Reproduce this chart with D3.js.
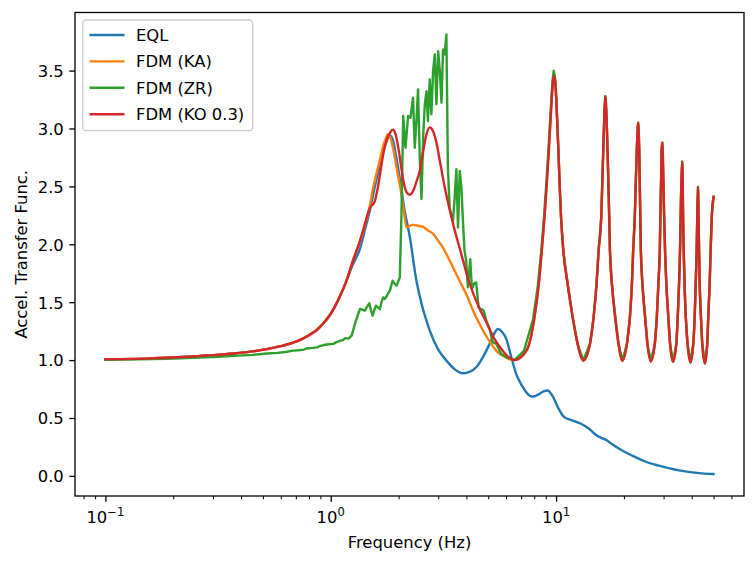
<!DOCTYPE html>
<html>
<head>
<meta charset="utf-8">
<script src="https://cdn.jsdelivr.net/npm/d3@7"></script>
<style>
  body { margin: 0; background: #fff; }
  text { font-family: "DejaVu Sans", sans-serif; fill: #000; }
</style>
</head>
<body>
<div id="chart"></div>
<script>
// series names + colours (matplotlib tab10)
const seriesNames = ["EQL", "FDM (KA)", "FDM (ZR)", "FDM (KO 0.3)"]
const seriesColors = ["#1f77b4", "#ff7f0e", "#2ca02c", "#d62728"]

// [frequency Hz, amplitude]
// low-frequency part shared by EQL, KA and KO
const lowShared = [[0.1,1.007],[0.15,1.013],[0.2,1.022],[0.264,1.036],[0.3,1.043],[0.371,1.057],[0.45,1.075],
  [0.521,1.095],[0.6,1.12],[0.732,1.175],[0.8,1.215],[0.867,1.26],[0.93,1.32],[1.0,1.40],[1.08,1.52],[1.177,1.69]]

const eqlTail = [[1.25,1.82],[1.347,1.96],[1.42,2.13],[1.49,2.29],[1.543,2.43],[1.6,2.57],[1.653,2.68],[1.71,2.80],
  [1.77,2.89],[1.83,2.94],[1.88,2.91],[1.95,2.76],[2.025,2.57],[2.12,2.31],[2.245,2.06],[2.40,1.685],[2.55,1.46],
  [2.66,1.34],[2.75,1.254],[3.0,1.09],[3.26,0.996],[3.55,0.92],[3.86,0.886],[4.15,0.9],[4.42,0.938],[4.75,1.03],
  [5.07,1.14],[5.3,1.225],[5.52,1.269],[5.75,1.245],[6.01,1.183],[6.3,1.04],[6.65,0.881],[7.1,0.77],[7.61,0.694],
  [7.87,0.685],[8.3,0.7],[8.8,0.73],[9.17,0.737],[9.64,0.69],[10.2,0.59],[10.88,0.507],[11.86,0.478],[12.9,0.45],
  [14.0,0.407],[15.0,0.356],[15.8,0.33],[16.7,0.31],[17.8,0.27],[19.06,0.234],[20.5,0.2],[22.5,0.162],[25.0,0.122],
  [28.6,0.088],[35.1,0.047],[43.1,0.024],[50,0.016]]

const kaMid = [[1.25,1.85],[1.347,2.02],[1.42,2.17],[1.49,2.33],[1.543,2.49],[1.6,2.62],[1.653,2.73],[1.71,2.85],
  [1.76,2.92],[1.79,2.95],[1.83,2.93],[1.89,2.83],[1.96,2.66],[2.06,2.43],[2.12,2.26],[2.17,2.145],[2.24,2.16],
  [2.32,2.168],[2.45,2.16],[2.57,2.15],[2.7,2.12],[2.85,2.09],[3.0,2.03],[3.15,1.97],[3.37,1.86],[3.73,1.685],
  [3.99,1.57],[4.3,1.42],[4.58,1.31],[5.07,1.16],[5.43,1.08],[5.9,1.03],[6.43,1.0]]

const koMid = [[1.25,1.85],[1.347,2.03],[1.42,2.18],[1.47,2.28],[1.51,2.33],[1.56,2.36],[1.6,2.44],[1.653,2.6],
  [1.71,2.78],[1.77,2.9],[1.83,2.96],[1.885,2.99],[1.94,2.95],[2.0,2.82],[2.05,2.68],[2.1,2.55],[2.17,2.45],
  [2.24,2.427],[2.32,2.46],[2.4,2.54],[2.48,2.63],[2.57,2.8],[2.66,2.95],[2.75,3.01],[2.84,2.98],[2.95,2.87],
  [3.05,2.72],[3.2,2.5],[3.37,2.3],[3.55,2.12],[3.73,1.97],[4.12,1.67],[4.56,1.45],[4.9,1.33],[5.3,1.19],
  [5.8,1.08],[6.2,1.02],[6.54,1.0]]

const koPeak1 = [[7.39,1.082],[8.02,1.369],[8.38,1.657],[8.64,1.944],[8.88,2.231],[9.09,2.519],[9.28,2.806],
  [9.46,3.093],[9.66,3.381],[9.76,3.453],[9.93,3.381],[10.10,3.093],[10.24,2.806],[10.37,2.519],[10.52,2.231],
  [10.77,1.944],[11.25,1.657],[11.85,1.369],[12.46,1.14]]

const zrLow = [[0.1,1.003],[0.14,1.006],[0.188,1.012],[0.264,1.022],[0.32,1.028],[0.371,1.036],[0.45,1.045],
  [0.521,1.057],[0.58,1.062],[0.63,1.07],[0.68,1.082],[0.72,1.085],[0.76,1.09],[0.78,1.1],[0.83,1.105],[0.87,1.11],
  [0.894,1.12],[0.93,1.13],[0.96,1.135],[1.027,1.14],[1.06,1.155],[1.1,1.165],[1.137,1.174],[1.16,1.19],[1.2,1.185],
  [1.238,1.211],[1.28,1.312],[1.32,1.39],[1.348,1.441],[1.38,1.435],[1.419,1.427],[1.443,1.455],[1.482,1.49],
  [1.51,1.43],[1.534,1.384],[1.56,1.43],[1.587,1.47],[1.62,1.455],[1.653,1.441],[1.68,1.5],[1.709,1.541],
  [1.738,1.528],[1.78,1.56],[1.83,1.6],[1.88,1.685],[1.92,1.66],[1.96,1.642],[2.025,1.714],[2.06,2.26],
  [2.097,3.108],[2.146,2.834],[2.205,3.108],[2.258,3.093],[2.318,3.266],[2.36,2.834],[2.40,3.065],[2.44,3.338],
  [2.486,2.72],[2.528,2.39],[2.57,2.92],[2.615,3.209],[2.66,3.323],[2.70,3.065],[2.75,3.424],[2.797,3.122],
  [2.845,3.496],[2.894,3.64],[2.944,3.209],[2.996,3.668],[3.049,3.496],[3.1,3.222],[3.15,3.683],[3.205,3.64],
  [3.26,3.812],[3.31,2.662],[3.37,2.317],[3.43,2.25],[3.487,2.203],[3.548,2.403],[3.61,2.648],[3.67,2.145],
  [3.735,2.634],[3.80,2.49],[3.86,2.203],[3.92,1.95],[3.99,1.858],[4.06,1.628],[4.16,1.872],[4.23,1.614],
  [4.32,1.66],[4.42,1.671],[4.53,1.455],[4.65,1.44],[4.77,1.427],[4.9,1.34],[5.07,1.269],[5.24,1.153],
  [5.43,1.14],[5.71,1.053],[6.1,1.019],[6.54,1.0]]

const zrPeak1 = [[7.2,1.08],[7.9,1.35],[8.3,1.64],[8.6,1.95],[8.85,2.25],[9.06,2.54],[9.26,2.83],[9.44,3.12],
  [9.64,3.41],[9.76,3.50],[9.93,3.42],[10.1,3.1],[10.24,2.81],[10.37,2.52],[10.52,2.23],[10.77,1.944],[11.25,1.657],
  [11.85,1.369],[12.46,1.14]]

// high-frequency resonances, same for KA, ZR and KO
const highShared = [[13.21,0.996],[14.14,1.14],[14.67,1.369],[15.12,1.657],[15.44,1.944],[15.86,2.231],
  [16.03,2.519],[16.19,2.806],[16.36,3.093],[16.53,3.28],[16.75,3.093],[16.92,2.806],[17.07,2.519],[17.21,2.231],
  [17.34,1.944],[17.69,1.657],[18.30,1.369],[18.92,1.14],[19.71,0.996],
  [20.62,1.14],[21.26,1.369],[21.70,1.657],[21.98,1.944],[22.37,2.26],[22.59,2.547],[22.83,2.834],[23.13,3.05],
  [23.37,2.834],[23.51,2.547],[23.63,2.26],[23.78,1.944],[24.16,1.657],[24.84,1.369],[25.43,1.14],[26.33,0.99],
  [27.42,1.14],[27.99,1.369],[28.44,1.657],[28.86,1.944],[29.03,2.26],[29.24,2.547],[29.44,2.834],[29.63,2.877],
  [29.93,2.547],[30.15,2.26],[30.45,1.944],[30.86,1.657],[31.49,1.369],[32.05,1.14],[33.04,0.987],
  [34.16,1.14],[34.66,1.369],[35.13,1.657],[35.48,1.944],[35.84,2.403],[36.32,2.714],[36.70,2.09],[37.15,1.657],
  [37.64,1.369],[38.31,1.14],[39.49,0.981],
  [40.63,1.14],[41.21,1.369],[41.64,1.657],[42.06,1.944],[42.32,2.24],[42.62,2.496],[42.97,2.116],[43.37,1.657],
  [43.95,1.369],[44.53,1.14],[45.77,0.972],
  [46.87,1.14],[47.34,1.369],[48.02,1.657],[48.51,1.944],[49.16,2.263],[50,2.41]]

const yTicks = [0, 0.5, 1.0, 1.5, 2.0, 2.5, 3.0, 3.5]
const xMajor = [0.1, 1, 10]
const xMajorExp = ["\u22121", "0", "1"]

const series = [
  lowShared.concat(eqlTail),
  lowShared.concat(kaMid, koPeak1, highShared),
  zrLow.concat(zrPeak1, highShared),
  lowShared.concat(koMid, koPeak1, highShared)
]

const W = 756, H = 564
const plotLeft = 75, plotRight = 744, plotTop = 12.5, plotBottom = 496

const svg = d3.select("#chart").append("svg")
  .attr("width", W).attr("height", H)

// matplotlib-style 5% margins
const allPts = series.flat()
const lf = d3.extent(allPts, d => Math.log10(d[0]))
const lpad = 0.05 * (lf[1] - lf[0])
const x = d3.scaleLog()
  .domain([Math.pow(10, lf[0] - lpad), Math.pow(10, lf[1] + lpad)])
  .range([plotLeft, plotRight])
const ve = d3.extent(allPts, d => d[1])
const vpad = 0.05 * (ve[1] - ve[0])
const y = d3.scaleLinear()
  .domain([ve[0] - vpad, ve[1] + vpad])
  .range([plotBottom, plotTop])

svg.append("defs").append("clipPath").attr("id", "clip")
  .append("rect").attr("x", plotLeft).attr("y", plotTop)
  .attr("width", plotRight - plotLeft).attr("height", plotBottom - plotTop)
const plot = svg.append("g").attr("clip-path", "url(#clip)")

series.forEach(function(data, i) {
  const line = d3.line()
    .x(d => x(d[0]))
    .y(d => y(d[1]))
    .curve(i == 2 ? d3.curveLinear : d3.curveMonotoneX)
  plot.append("path")
    .attr("d", line(data))
    .attr("fill", "none")
    .attr("stroke", seriesColors[i])
    .attr("stroke-width", 2.4)
    .attr("stroke-linejoin", "round")
    .attr("stroke-linecap", "square")
})

// x minor ticks
const dom = x.domain()
const minor = []
for (let e = -2; e <= 2; e++) {
  for (let m = 2; m <= 9; m++) {
    const v = m * Math.pow(10, e)
    if (v >= dom[0] && v <= dom[1]) minor.push(v)
  }
}
const xMinorAxis = svg.append("g")
  .attr("transform", `translate(0,${plotBottom})`)
  .call(d3.axisBottom(x).tickValues(minor).tickSize(3.3).tickFormat(""))
xMinorAxis.select(".domain").remove()
xMinorAxis.selectAll("line").attr("stroke-width", 1)

const xAxis = svg.append("g")
  .attr("transform", `translate(0,${plotBottom})`)
  .call(d3.axisBottom(x).tickValues(xMajor).tickSize(5.7).tickFormat(""))
xAxis.select(".domain").remove()
xAxis.selectAll("line").attr("stroke-width", 1.3)

// 10^n labels
xMajor.forEach(function(v, i) {
  const t = svg.append("text")
    .attr("x", x(v))
    .attr("y", 523.3)
    .attr("text-anchor", "middle")
    .style("font-size", "16.4px")
  t.append("tspan").text("10")
  t.append("tspan").attr("dy", -7.5).style("font-size", "11.6px").text(xMajorExp[i])
})

const yAxis = svg.append("g")
  .attr("transform", `translate(${plotLeft},0)`)
  .call(d3.axisLeft(y).tickValues(yTicks).tickSize(5.7).tickPadding(5.5).tickFormat(d3.format(".1f")))
yAxis.select(".domain").remove()
yAxis.selectAll("line").attr("stroke-width", 1.3)
yAxis.selectAll("text")
  .style("font-size", "16.4px")
  .style("font-family", "DejaVu Sans")
  .attr("dy", "0.36em")

// frame
svg.append("rect")
  .attr("x", plotLeft).attr("y", plotTop)
  .attr("width", plotRight - plotLeft).attr("height", plotBottom - plotTop)
  .attr("fill", "none").attr("stroke", "#000").attr("stroke-width", 1.3)

svg.append("text")
  .attr("x", (plotLeft + plotRight) / 2).attr("y", 547.5)
  .attr("text-anchor", "middle")
  .style("font-size", "16.4px")
  .text("Frequency (Hz)")

svg.append("text")
  .attr("transform", `translate(26.5,${(plotTop + plotBottom) / 2}) rotate(-90)`)
  .attr("text-anchor", "middle")
  .style("font-size", "16.4px")
  .text("Accel. Transfer Func.")

// legend
const legend = svg.append("g")
legend.append("rect")
  .attr("x", 82.7).attr("y", 20)
  .attr("width", 170).attr("height", 110.7)
  .attr("rx", 3.5)
  .attr("fill", "#fff").attr("fill-opacity", 0.8)
  .attr("stroke", "#cccccc").attr("stroke-width", 1.3)

seriesNames.forEach(function(name, i) {
  const cy = 35 + i * 26.4
  legend.append("line")
    .attr("x1", 89.5).attr("x2", 124.5)
    .attr("y1", cy).attr("y2", cy)
    .attr("stroke", seriesColors[i]).attr("stroke-width", 2.4)
  legend.append("text")
    .attr("x", 136).attr("y", cy).attr("dy", "0.35em")
    .style("font-size", "16.4px")
    .text(name)
})
</script>
</body>
</html>
